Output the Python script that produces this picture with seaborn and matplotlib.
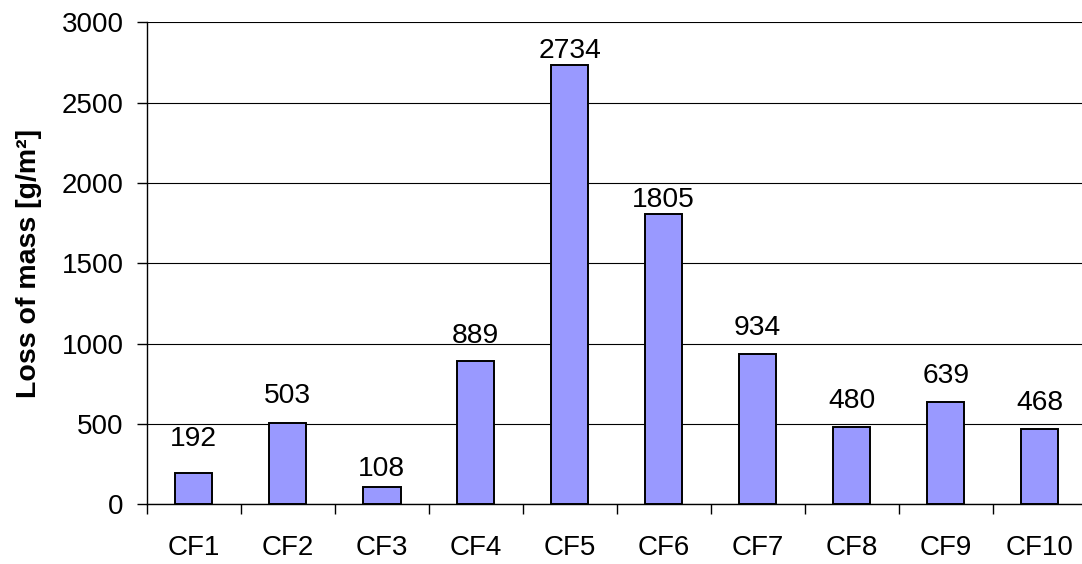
import numpy as np
import pandas as pd
import matplotlib
matplotlib.use('Agg')
import matplotlib.pyplot as plt
import seaborn as sns

# data
samples = ['CF1', 'CF2', 'CF3', 'CF4', 'CF5', 'CF6', 'CF7', 'CF8', 'CF9', 'CF10']
loss = [192, 503, 108, 889, 2734, 1805, 934, 480, 639, 468]
yticks = [0, 500, 1000, 1500, 2000, 2500, 3000]
# gap (pixels) between bar top and its value label, as placed in the original
label_gap = [27, 20, 11, 18, 7, 7.5, 19, 19, 19, 19]

df = pd.DataFrame({'sample': samples, 'loss': loss})

sns.set_style('white')
plt.rcParams['font.family'] = ['Liberation Sans', 'DejaVu Sans']
plt.rcParams['text.color'] = 'black'
plt.rcParams['axes.labelcolor'] = 'black'
plt.rcParams['xtick.color'] = 'black'
plt.rcParams['ytick.color'] = 'black'

fig = plt.figure(figsize=(10.82, 5.64), dpi=100)
ax = fig.add_axes([146.7 / 1082, (564 - 504.3) / 564, 940 / 1082, 482 / 564])

sns.barplot(data=df, x='sample', y='loss', color='#9999FF', saturation=1,
            width=0.4, edgecolor='black', linewidth=1.4, ax=ax, zorder=3)

ax.set_ylim(0, 3000)
ax.set_xlim(-0.5, len(samples) - 0.5)
ax.set_yticks(yticks)
ax.yaxis.grid(True, color='black', linewidth=0.8)
ax.set_axisbelow(True)

for s in ['top', 'right']:
    ax.spines[s].set_visible(False)
for s in ['left', 'bottom']:
    ax.spines[s].set_color('black')
    ax.spines[s].set_linewidth(1.0)

ax.tick_params(axis='y', which='major', direction='out', length=7.2, width=1.0,
               color='black', pad=9.5, labelsize=20, left=True)
ax.tick_params(axis='x', which='major', length=0, pad=22, labelsize=20)
ax.set_xticks(np.arange(len(samples) + 1) - 0.5, minor=True)
ax.tick_params(axis='x', which='minor', direction='out', length=7.2, width=1.0,
               color='black', bottom=True)

for i, (v, g) in enumerate(zip(loss, label_gap)):
    ax.annotate(str(v), (i, v), xytext=(0, g), textcoords='offset pixels',
                ha='center', va='baseline', fontsize=20.3, color='black')

ax.set_xlabel('')
ax.set_ylabel('Loss of mass [g/m²]', fontsize=20.5, fontweight='bold')
ax.yaxis.set_label_coords(-0.111, 0.5)

fig.savefig('out.png', dpi=100)
